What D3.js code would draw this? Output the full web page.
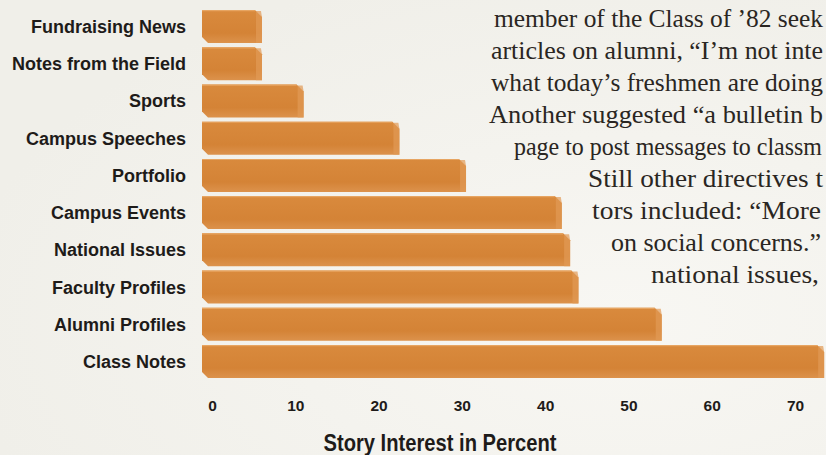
<!DOCTYPE html>
<html>
<head>
<meta charset="utf-8">
<script src="https://cdn.jsdelivr.net/npm/d3@7"></script>
<style>
  html, body { margin: 0; padding: 0; background: #f3f2ed; }
  svg { display: block; }
</style>
</head>
<body>
<svg id="chart" width="826" height="455"></svg>
<script>
// ---- data ----
const categories = ["Fundraising News", "Notes from the Field", "Sports", "Campus Speeches",
  "Portfolio", "Campus Events", "National Issues", "Faculty Profiles", "Alumni Profiles", "Class Notes"];
const values = [6, 6, 11, 22.5, 30.5, 42, 43, 44, 54, 73.5];
const tickValues = [0, 10, 20, 30, 40, 50, 60, 70];
const axisTitle = "Story Interest in Percent";
const bodyLines = [
  "member of the Class of \u201982 seek",
  "articles on alumni, \u201cI\u2019m not inte",
  "what today\u2019s freshmen are doing",
  "Another suggested \u201ca bulletin b",
  "page to post messages to classm",
  "Still other directives t",
  "tors included: \u201cMore",
  "on social concerns.\u201d",
  "national issues,"
];

// ---- layout ----
const W = 826, H = 455;
const svg = d3.select("#chart");

const defs = svg.append("defs");
const bg = defs.append("radialGradient").attr("id", "paper").attr("cx", "75%").attr("cy", "70%").attr("r", "80%");
bg.append("stop").attr("offset", "0%").attr("stop-color", "#f8f7f3");
bg.append("stop").attr("offset", "100%").attr("stop-color", "#f0efe9");
svg.append("rect").attr("width", W).attr("height", H).attr("fill", "url(#paper)");

const barGrad = defs.append("linearGradient").attr("id", "barGrad").attr("x1", 0).attr("y1", 0).attr("x2", 0).attr("y2", 1);
barGrad.append("stop").attr("offset", "0%").attr("stop-color", "#d98a3d");
barGrad.append("stop").attr("offset", "70%").attr("stop-color", "#d48336");
barGrad.append("stop").attr("offset", "100%").attr("stop-color", "#dc924c");

const x = d3.scaleLinear().domain([0, 70]).range([212, 795]);
const y = d3.scaleBand().domain(categories).range([10, 378]).paddingInner(0.113).paddingOuter(0);

const depth = 10;   // bars start left of the zero mark (3-D offset)
const bev = 7;

// body text (serif page copy, justified column clipped at the page edge)
const bodyStart = [494, 491, 491, 489, 514, 588, 592, 611, 651];
const bodyEnd   = [823, 823, 823, 823, 822, 823, 821, 821, 819];
svg.append("g").selectAll("text").data(bodyLines).join("text")
  .attr("x", (d, i) => bodyStart[i])
  .attr("y", (d, i) => 27 + i * 32)
  .attr("textLength", (d, i) => bodyEnd[i] - bodyStart[i])
  .attr("lengthAdjust", "spacingAndGlyphs")
  .attr("font-family", "'Liberation Serif', 'DejaVu Serif', serif")
  .attr("font-size", 24.5)
  .attr("fill", "#2a2622")
  .text(d => d);

// bars
const bars = svg.append("g");
const rows = categories.map((c, i) => ({ c, v: values[i] }));
bars.selectAll("path.bar").data(rows).join("path")
  .attr("class", "bar")
  .attr("fill", "url(#barGrad)")
  .attr("d", d => {
    const x0 = x(0) - depth, x1 = x(d.v), t = y(d.c), b = y(d.c) + y.bandwidth();
    return `M${x0},${t} L${x1 - bev},${t} L${x1},${t + bev} L${x1},${b} L${x0 + 6},${b} L${x0},${b - 6} Z`;
  });
// right side face
bars.selectAll("path.side").data(rows).join("path")
  .attr("class", "side")
  .attr("fill", "#e19a55")
  .attr("opacity", 0.7)
  .attr("d", d => {
    const x1 = x(d.v), t = y(d.c), b = y(d.c) + y.bandwidth();
    return `M${x1 - 6},${t + 1} L${x1 - bev + 6},${t + 1} L${x1},${t + bev} L${x1},${b} L${x1 - 6},${b} Z`;
  });
// light top edge
bars.selectAll("path.top").data(rows).join("path")
  .attr("class", "top")
  .attr("fill", "none")
  .attr("stroke", "#e7a562")
  .attr("stroke-width", 1.2)
  .attr("d", d => {
    const x0 = x(0) - depth, x1 = x(d.v), t = y(d.c) + 0.6;
    return `M${x0},${t} L${x1 - bev},${t}`;
  });

// category labels
svg.append("g").selectAll("text").data(categories).join("text")
  .attr("x", 186)
  .attr("y", d => y(d) + y.bandwidth() / 2)
  .attr("dy", "0.36em")
  .attr("text-anchor", "end")
  .attr("font-family", "'Liberation Sans', Arial, sans-serif")
  .attr("font-weight", "bold")
  .attr("font-size", 18)
  .attr("fill", "#1e1b19")
  .text(d => d);

// x axis (labels only)
const axis = d3.axisBottom(x).tickValues(tickValues).tickSize(0).tickPadding(0).tickFormat(d3.format("d"));
const ag = svg.append("g").attr("transform", "translate(0,400)").call(axis);
ag.select(".domain").remove();
ag.selectAll("text")
  .attr("font-family", "'Liberation Sans', Arial, sans-serif")
  .attr("font-weight", "bold")
  .attr("font-size", 15.5)
  .attr("fill", "#1e1b19");

// axis title
svg.append("text")
  .attr("x", 440).attr("y", 451)
  .attr("text-anchor", "middle")
  .attr("font-family", "'Liberation Sans Narrow', 'Arial Narrow', 'Liberation Sans', sans-serif")
  .attr("font-weight", "bold")
  .attr("font-size", 24)
  .attr("textLength", 233)
  .attr("lengthAdjust", "spacingAndGlyphs")
  .attr("fill", "#1e1b19")
  .text(axisTitle);
</script>
</body>
</html>
